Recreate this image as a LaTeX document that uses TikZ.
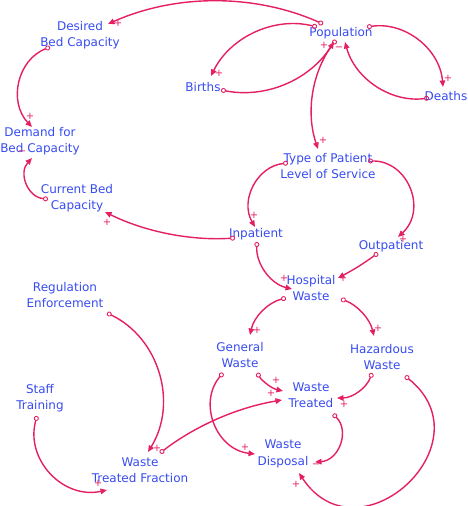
\documentclass[tikz,border=0pt]{standalone}
\usepackage{fontspec}
\setmainfont{DejaVu Sans}
\usetikzlibrary{arrows.meta}
\definecolor{txtblue}{RGB}{55,75,240}
\definecolor{linkred}{RGB}{228,32,98}
\tikzset{
  lbl/.style={text=txtblue, align=center, font=\fontsize{12}{16.5}\selectfont, inner sep=0pt},
  link/.style={draw=linkred, line width=1.4pt, {Circle[open,length=5pt,width=5pt,line width=0.9pt]}-{Triangle[length=6.5pt,width=5.5pt]}},
  sgn/.style={text=linkred, font=\fontsize{10}{10}\selectfont, inner sep=0pt}
}
\begin{document}
\begin{tikzpicture}[x=1pt,y=-1pt]
\useasboundingbox (0,0) rectangle (468,506);
% nodes
\node[lbl] (dbc) at (80,35) {Desired\\Bed Capacity};
\node[lbl] (pop) at (341,33) {Population};
\node[lbl] (births) at (203,87) {Births};
\node[lbl] (deaths) at (446,96) {Deaths};
\node[lbl] (dem) at (40,141) {Demand for\\Bed Capacity};
\node[lbl] (cbc) at (77,198) {Current Bed\\Capacity};
\node[lbl] (type) at (328,166) {Type of Patient\\Level of Service};
\node[lbl] (inp) at (256,234) {Inpatient};
\node[lbl] (outp) at (391,246) {Outpatient};
\node[lbl] (hw) at (311,288) {Hospital\\Waste};
\node[lbl] (reg) at (65,295) {Regulation\\Enforcement};
\node[lbl] (gw) at (240,355) {General\\Waste};
\node[lbl] (hz) at (382,357) {Hazardous\\Waste};
\node[lbl] (wt) at (311,395) {Waste\\Treated};
\node[lbl] (st) at (40,398) {Staff\\Training};
\node[lbl] (wd) at (283,454) {Waste\\Disposal};
\node[lbl] (wtf) at (140,470) {Waste\\Treated Fraction};
% connectors
\draw[link] ([shift={(-18,-9)}]pop.center) to[bend right=24, looseness=0.89] ([shift={(28,-11)}]dbc.center);
\draw[link] ([shift={(-30,12)}]dbc.center) to[bend right=56, looseness=1.09] ([shift={(-8,-14)}]dem.center);
\draw[link] ([shift={(-29,1)}]cbc.center) to[bend left=64, looseness=1.19] ([shift={(-8,17)}]dem.center);
\draw[link] ([shift={(-21,4)}]inp.center) to[bend left=15, looseness=0.86] ([shift={(28,14)}]cbc.center);
\draw[link] ([shift={(-24,-6)}]pop.center) to[bend right=39, looseness=0.96] ([shift={(8,-11)}]births.center);
\draw[link] ([shift={(18,3)}]births.center) to[bend right=34, looseness=0.95] ([shift={(-7,9)}]pop.center);
\draw[link] ([shift={(26,-6)}]pop.center) to[bend left=47, looseness=1.01] ([shift={(-3,-9)}]deaths.center);
\draw[link] ([shift={(-17,2)}]deaths.center) to[bend left=41, looseness=0.97] ([shift={(4,9)}]pop.center);
\draw[link] ([shift={(-5,7)}]pop.center) to[bend right=28, looseness=0.91] ([shift={(-10,-17)}]type.center);
\draw[link] ([shift={(-40,-3)}]type.center) to[bend right=57, looseness=1.10] ([shift={(-1,-7)}]inp.center);
\draw[link] ([shift={(40,-5)}]type.center) to[bend left=69, looseness=1.26] ([shift={(7,-9)}]outp.center);
\draw[link] ([shift={(1,8)}]inp.center) to[bend right=40, looseness=0.96] ([shift={(-19,1)}]hw.center);
\draw[link] ([shift={(-13,7)}]outp.center) to[bend left=4] ([shift={(27,-10)}]hw.center);
\draw[link] ([shift={(-25,10)}]hw.center) to[bend right=32, looseness=0.92] ([shift={(10,-20)}]gw.center);
\draw[link] ([shift={(30,11)}]hw.center) to[bend left=28, looseness=0.91] ([shift={(-8,-21)}]hz.center);
\draw[link] ([shift={(17,18)}]gw.center) to[bend right=22, looseness=0.88] ([shift={(-28,-4)}]wt.center);
\draw[link] ([shift={(-17,18)}]gw.center) to[bend right=62, looseness=1.155] ([shift={(-28,0)}]wd.center);
\draw[link] ([shift={(-10,16)}]hz.center) to[bend left=35, looseness=0.94] ([shift={(26,3)}]wt.center);
\draw[link] ([shift={(23,19)}]hz.center) to[bend left=99, looseness=1.92] ([shift={(16,19)}]wd.center);
\draw[link] ([shift={(22,19)}]wt.center) to[bend left=66, looseness=1.2] ([shift={(32,8)}]wd.center);
\draw[link] ([shift={(20,-17)}]wtf.center) to[bend left=14, looseness=0.865] ([shift={(-29,5)}]wt.center);
\draw[link] ([shift={(42,18)}]reg.center) to[bend left=48, looseness=1.02] ([shift={(8,-18)}]wtf.center);
\draw[link] ([shift={(-3,18)}]st.center) to[bend right=59, looseness=1.13] ([shift={(-33,20)}]wtf.center);
% polarity signs
\node[sgn] (s1) at (118,23) {+};
\node[sgn] (s2) at (30,116) {+};
\node[sgn] (s3) at (22,153) {−};
\node[sgn] (s4) at (107,222) {+};
\node[sgn] (s5) at (219,73) {+};
\node[sgn] (s6) at (324,45) {+};
\node[sgn] (s7) at (448,78) {+};
\node[sgn] (s8) at (339,49) {−};
\node[sgn] (s9) at (323,140) {+};
\node[sgn] (s10) at (254,215) {+};
\node[sgn] (s11) at (403,239) {+};
\node[sgn] (s12) at (284,278) {+};
\node[sgn] (s13) at (343,278) {+};
\node[sgn] (s14) at (257,330) {+};
\node[sgn] (s15) at (378,328) {+};
\node[sgn] (s16) at (276,380) {+};
\node[sgn] (s17) at (245,447) {+};
\node[sgn] (s18) at (344,404) {+};
\node[sgn] (s19) at (296,484) {+};
\node[sgn] (s20) at (316,466) {−};
\node[sgn] (s21) at (271,393) {+};
\node[sgn] (s22) at (157,448) {+};
\node[sgn] (s23) at (98,483) {+};
\end{tikzpicture}
\end{document}
